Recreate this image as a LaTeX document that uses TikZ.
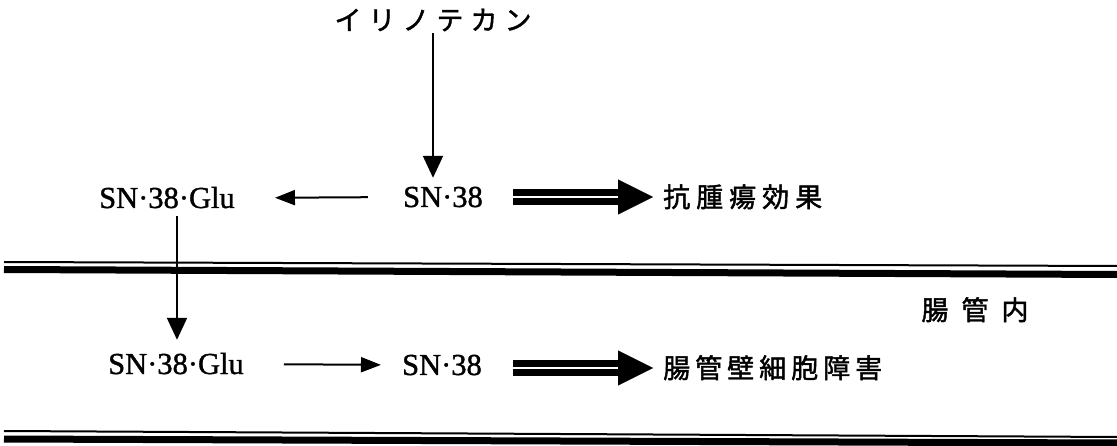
\documentclass[tikz,border=0pt]{standalone}
\usepackage{fontspec}
\setmainfont{Liberation Serif}
\newfontfamily\latf{Liberation Serif}[FakeBold=1.2]
\newfontfamily\cjk{Noto Sans CJK JP}[FakeBold=1.6]
\usetikzlibrary{arrows.meta}
\newcommand\jk[1]{\kern#1pt}
\begin{document}
\begin{tikzpicture}[x=1pt,y=-1pt,
  lat/.style={font=\latf\fontsize{30.5}{30}\selectfont, inner sep=0pt, text height=20pt, text depth=0pt},
  jp/.style={font=\cjk\fontsize{27}{27}\selectfont, inner sep=0pt, text height=20pt, text depth=0pt},
  arr/.style={line width=2pt, -{Triangle[length=20pt,width=15pt]}},
  varr/.style={line width=2pt, -{Triangle[length=22pt,width=20pt]}},
  shaft/.style={double, double distance=2pt, line width=7pt},
  bigtip/.style={-{Triangle[length=35pt,width=35pt]}},
  thinwall/.style={line width=2pt},
  thickwall/.style={line width=7pt}]
\useasboundingbox (0,0) rectangle (1117,446);
% walls
\draw[thinwall] (4,262) -- (1117,266);
\draw[thickwall] (4,269.5) -- (1117,274.5);
\draw[thinwall] (4,431) -- (1117,437);
\draw[thickwall] (4,439) -- (1117,443);
% texts
\node[jp] (irino) at (433,20) {イ\jk7リ\jk7ノ\jk7テ\jk7カ\jk7ン};
\node[lat] (glu1) at (167,198) {SN·38·Glu};
\node[lat] (s38a) at (443,197) {SN·38};
\node[jp, anchor=west] (fx1) at (663,197) {抗\jk6腫\jk6瘍\jk6効\jk6果};
\node[jp] (lumen) at (975,310) {腸\jk{13}管\jk{13}内};
\node[lat] (glu2) at (176,364) {SN·38·Glu};
\node[lat] (s38b) at (442,365) {SN·38};
\node[jp, anchor=west] (fx2) at (663,368) {腸\jk5管\jk5壁\jk5細\jk5胞\jk5障\jk5害};
% connectors
\draw[varr, shorten <=3pt, shorten >=9pt] (irino.south) -- (irino.south |- s38a.north);
\draw[arr, shorten <=35pt, shorten >=40pt] (s38a.west) -- (glu1.east);
\draw[varr, shorten <=8pt, shorten >=14pt] ([xshift=10pt]glu1.south) -- ([xshift=10pt]glu1.south |- glu2.north);
\draw[arr, shorten <=40pt, shorten >=21pt] (glu2.east) -- (s38b.west);
\draw[shaft] ([xshift=30pt]s38a.east) -- ([xshift=-45pt]fx1.west);
\draw[bigtip] ([xshift=-45pt]fx1.west) -- ([xshift=-10pt]fx1.west);
\draw[shaft] ([xshift=31pt]s38b.east |- fx2.west) -- ([xshift=-45pt]fx2.west);
\draw[bigtip] ([xshift=-45pt]fx2.west) -- ([xshift=-10pt]fx2.west);
\end{tikzpicture}
\end{document}
